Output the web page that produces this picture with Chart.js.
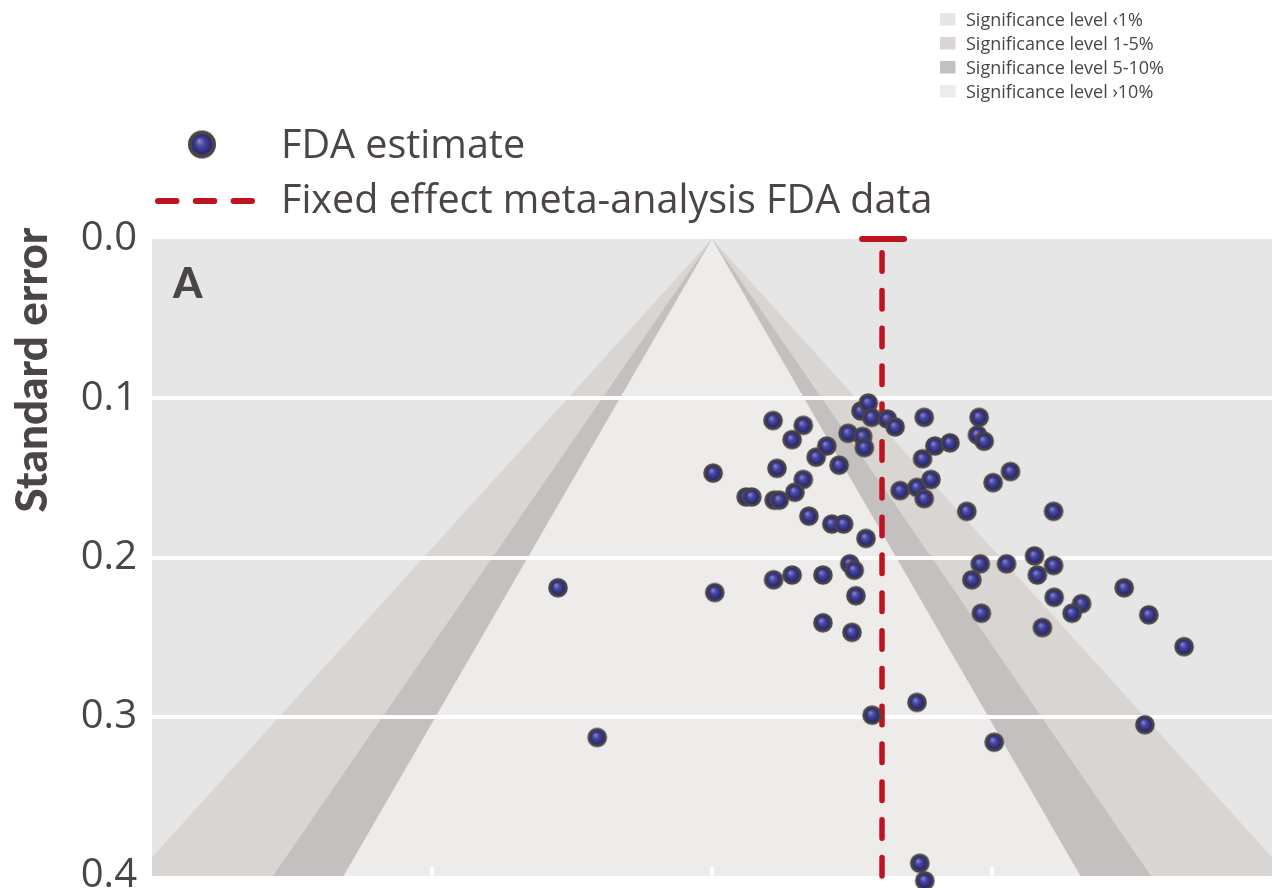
<!DOCTYPE html>
<html>
<head>
<meta charset="utf-8">
<title>Funnel plot – FDA estimates</title>
<script src="https://cdn.jsdelivr.net/npm/chart.js@4.4.1/dist/chart.umd.min.js"></script>
<style>
  html, body { margin: 0; padding: 0; background: #ffffff; }
  #wrap { position: relative; width: 1280px; height: 888px; }
</style>
</head>
<body>
<div id="wrap"><canvas id="funnel" width="1280" height="888"></canvas></div>
<script>
// Effect size and standard error of each FDA estimate
const effectSizes = [
  -0.275, -0.205, 0.002, 0.005, 0.109, 0.116, 0.143, 0.163, 0.163, 0.148,
  0.061, 0.071, 0.111, 0.120, 0.173, 0.186, 0.205, 0.227, 0.214, 0.235,
  0.243, 0.269, 0.272, 0.266, 0.279, 0.285, 0.313, 0.327, 0.275, 0.110,
  0.143, 0.198, 0.246, 0.254, 0.257, 0.198, 0.250, 0.379, 0.376, 0.398,
  0.425, 0.366, 0.391, 0.379, 0.336, 0.477, 0.474, 0.486, 0.502, 0.533,
  0.455, 0.610, 0.464, 0.479, 0.526, 0.576, 0.581, 0.610, 0.611, 0.660,
  0.643, 0.481, 0.590, 0.736, 0.780, 0.843, 0.366, 0.286, 0.504, 0.773,
  0.371, 0.380
];
const standardErrors = [
  0.219, 0.313, 0.147, 0.222, 0.114, 0.144, 0.126, 0.117, 0.151, 0.159,
  0.162, 0.162, 0.164, 0.164, 0.174, 0.137, 0.130, 0.142, 0.179, 0.179,
  0.122, 0.124, 0.131, 0.108, 0.103, 0.112, 0.113, 0.118, 0.188, 0.214,
  0.211, 0.211, 0.204, 0.208, 0.224, 0.241, 0.247, 0.112, 0.138, 0.130,
  0.128, 0.156, 0.151, 0.163, 0.158, 0.112, 0.123, 0.127, 0.153, 0.146,
  0.171, 0.171, 0.214, 0.204, 0.204, 0.199, 0.211, 0.205, 0.225, 0.229,
  0.235, 0.235, 0.244, 0.219, 0.236, 0.256, 0.291, 0.299, 0.316, 0.305,
  0.392, 0.403
];

// Fixed effect meta-analysis estimate and its confidence interval
const fixedEffect = 0.3036;
const fixedEffectCI = [0.268, 0.343];

// Axis ticks
const seTicks = [0.0, 0.1, 0.2, 0.3, 0.4];
const effectTicks = [-0.5, 0.0, 0.5];

// Contour-enhanced funnel: critical z values (1%, 5%, 10%) and legend
const zCritical = [2.576, 1.96, 1.645];
const significanceLabels = [
  'Significance level \u20391%',
  'Significance level 1-5%',
  'Significance level 5-10%',
  'Significance level \u203a10%'
];
const significanceColors = ['#e6e6e6', '#d9d5d3', '#c5c0c0', '#edecea'];

const TEXT = '#4b4645';
const RED = '#be1421';
const LIGHT_FONT = '"Open Sans", "Noto Sans", "DejaVu Sans", sans-serif';
const HEAVY_FONT = 'Lato, "Open Sans", "DejaVu Sans", sans-serif';

// Shaded ball used as the point marker
function makeBall(r) {
  const size = Math.ceil(r * 2 + 4);
  const c = document.createElement('canvas');
  c.width = size; c.height = size;
  const g = c.getContext('2d');
  const cx = size / 2, cy = size / 2;
  g.beginPath();
  g.arc(cx, cy, r, 0, Math.PI * 2);
  g.fillStyle = '#4a4444';
  g.fill();
  const inner = r * 0.71;
  const grad = g.createRadialGradient(cx - inner * 0.3, cy - inner * 0.4, 0, cx, cy, inner);
  grad.addColorStop(0, '#9090cc');
  grad.addColorStop(0.45, '#4646a0');
  grad.addColorStop(1, '#25256e');
  g.beginPath();
  g.arc(cx, cy, inner, 0, Math.PI * 2);
  g.fillStyle = grad;
  g.fill();
  return c;
}
const ball = makeBall(9.8);
const legendBall = makeBall(14);

const points = effectSizes.map((x, i) => ({ x: x, y: standardErrors[i] }));

// Significance contours behind everything (the grid is drawn on top of them)
const contourPlugin = {
  id: 'contours',
  beforeDraw(chart) {
    const { ctx, chartArea: a, scales: { x, y } } = chart;
    ctx.save();
    ctx.beginPath();
    ctx.rect(a.left, a.top, a.right - a.left, a.bottom - a.top);
    ctx.clip();
    ctx.fillStyle = significanceColors[0];
    ctx.fillRect(a.left, a.top, a.right - a.left, a.bottom - a.top);
    const seMax = seTicks[seTicks.length - 1];
    zCritical.forEach((z, i) => {
      ctx.beginPath();
      ctx.moveTo(x.getPixelForValue(0), y.getPixelForValue(0));
      ctx.lineTo(x.getPixelForValue(z * seMax), y.getPixelForValue(seMax));
      ctx.lineTo(x.getPixelForValue(-z * seMax), y.getPixelForValue(seMax));
      ctx.closePath();
      ctx.fillStyle = significanceColors[i + 1];
      ctx.fill();
    });
    ctx.restore();
  },
  beforeDatasetsDraw(chart) {
    const { ctx, chartArea: a, scales: { x } } = chart;
    ctx.save();
    ctx.fillStyle = '#ffffff';
    effectTicks.forEach(v => {
      const px = x.getPixelForValue(v);
      ctx.fillRect(px - 2, a.bottom - 9, 4, 9);
    });
    ctx.restore();
  },
  afterDraw(chart) {
    const { ctx, chartArea: a } = chart;
    ctx.save();
    ctx.fillStyle = TEXT;

    // Panel letter
    ctx.font = '900 42px ' + HEAVY_FONT;
    ctx.textAlign = 'left';
    ctx.textBaseline = 'alphabetic';
    ctx.fillText('A', a.left + 21, 298);

    // Y axis title
    ctx.save();
    ctx.translate(47, 370);
    ctx.rotate(-Math.PI / 2);
    ctx.textAlign = 'center';
    ctx.font = '900 44px ' + HEAVY_FONT;
    ctx.fillText('Standard error', 0, 0);
    ctx.restore();

    // Series legend
    ctx.drawImage(legendBall, 202 - legendBall.width / 2, 144.5 - legendBall.height / 2);
    ctx.font = '39.5px ' + LIGHT_FONT;
    ctx.textAlign = 'left';
    ctx.fillText('FDA estimate', 281, 158);
    ctx.save();
    ctx.strokeStyle = RED;
    ctx.lineWidth = 6;
    ctx.lineCap = 'round';
    ctx.setLineDash([18.5, 19.3]);
    ctx.beginPath();
    ctx.moveTo(158, 201);
    ctx.lineTo(252, 201);
    ctx.stroke();
    ctx.restore();
    ctx.fillText('Fixed effect meta-analysis FDA data', 281, 213);

    // Significance legend
    ctx.font = '18px ' + LIGHT_FONT;
    significanceLabels.forEach((label, i) => {
      ctx.fillStyle = significanceColors[i];
      ctx.fillRect(940, 13 + i * 24, 15.5, 12.5);
      ctx.fillStyle = TEXT;
      ctx.fillText(label, 966, 26 + i * 24);
    });
    ctx.restore();
  }
};

new Chart(document.getElementById('funnel'), {
  type: 'scatter',
  data: {
    datasets: [
      {
        label: 'FDA estimate',
        data: points,
        pointStyle: ball,
        pointRadius: 10,
        order: 0,
        clip: false
      },
      {
        type: 'line',
        label: 'Fixed effect meta-analysis FDA data',
        data: [{ x: fixedEffect, y: seTicks[seTicks.length - 1] }, { x: fixedEffect, y: 0 }],
        showLine: true,
        borderColor: RED,
        borderWidth: 5.5,
        borderDash: [18.5, 19.3],
        borderCapStyle: 'round',
        pointRadius: 0,
        order: 1,
        clip: false
      },
      {
        type: 'line',
        label: 'Fixed effect CI',
        data: [{ x: fixedEffectCI[0], y: 0 }, { x: fixedEffectCI[1], y: 0 }],
        showLine: true,
        borderColor: RED,
        borderWidth: 6,
        borderCapStyle: 'round',
        pointRadius: 0,
        order: 1,
        clip: false
      }
    ]
  },
  options: {
    responsive: false,
    animation: false,
    events: [],
    layout: { autoPadding: false, padding: { top: 239, right: 8, bottom: 12, left: 0 } },
    plugins: { legend: { display: false }, tooltip: { enabled: false } },
    scales: {
      x: {
        type: 'linear',
        min: -1,
        max: 1,
        display: false
      },
      y: {
        type: 'linear',
        reverse: true,
        min: 0,
        max: 0.4,
        afterFit(scale) {
          scale.width = 152;
          scale.paddingTop = 0;
          scale.paddingBottom = 0;
        },
        afterBuildTicks(scale) { scale.ticks = seTicks.map(v => ({ value: v })); },
        border: { display: false },
        grid: {
          drawTicks: false,
          lineWidth: 4,
          color(ctx) {
            const v = ctx.tick ? ctx.tick.value : 0;
            return (v > 0.05 && v < 0.35) ? '#ffffff' : 'rgba(0,0,0,0)';
          }
        },
        ticks: {
          padding: 15,
          color: TEXT,
          font: { family: LIGHT_FONT, size: 40, weight: '400' },
          callback: v => Number(v).toFixed(1)
        }
      }
    }
  },
  plugins: [contourPlugin]
});
</script>
</body>
</html>
